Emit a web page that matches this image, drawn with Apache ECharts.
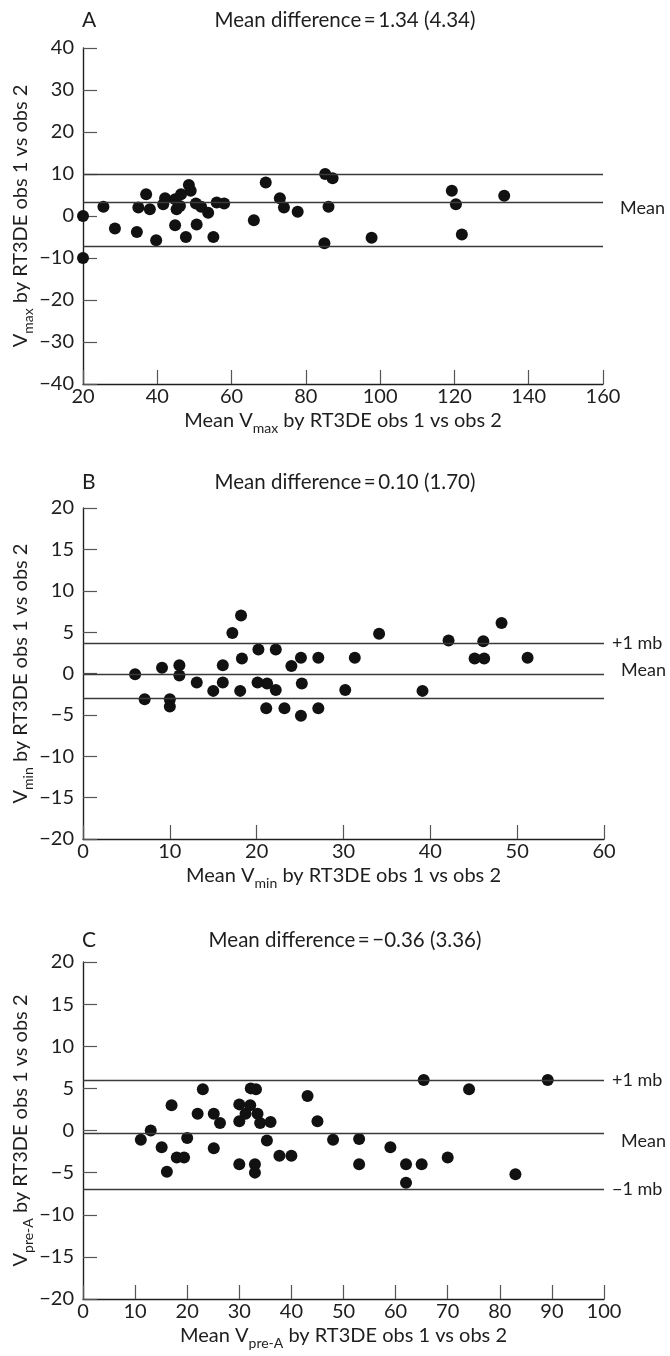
<!DOCTYPE html>
<html><head><meta charset="utf-8">
<script src="https://cdn.jsdelivr.net/npm/echarts@6/dist/echarts.min.js"></script>
<style>html,body{margin:0;padding:0;background:#fff}#c{width:670px;height:1356px}</style>
</head><body><div id="c"></div>
<script>
// Panel A: Vmax
const aX = [20,20,25.5,28.6,34.5,34.9,37,38,39.7,41.6,42.1,44.8,44.8,45.2,46.1,46.4,47.7,48.5,49,50.4,50.6,51.8,53.7,55.1,56,58,66,69.2,73,74.1,77.8,85,85.2,86.1,87.2,97.7,119.3,120.4,122,133.4];
const aY = [0,-10,2.2,-3,-3.8,2,5.2,1.6,-5.8,2.8,4.2,-2.2,4,1.6,2.4,5.2,-5,7.4,6,3,-2,2.2,0.8,-5,3.2,3,-1,8,4.2,2,1,-6.5,10,2.2,9,-5.2,6,2.8,-4.4,4.8];
const aLines = [10, 3.2, -7.2];
const aLineLabels = ['', 'Mean', ''];
// Panel B: Vmin
const bX = [6,7.1,9.1,10,10,11.1,11.1,13.1,15,16.1,16.1,17.2,18.1,18.2,18.3,20.1,20.2,21.2,21.1,22.2,22.2,23.2,24,25.1,25.2,25.1,27.1,27.1,30.2,31.3,34.1,39.1,42.1,45.1,46.2,46.1,48.2,51.2];
const bY = [-0.1,-3.1,0.7,-3.1,-4,1,-0.25,-1.1,-2.1,1,-1.1,4.9,-2.1,7,1.8,-1.1,2.9,-1.2,-4.2,2.9,-2,-4.2,0.9,1.9,-1.2,-5.1,1.9,-4.2,-2,1.9,4.8,-2.1,4,1.8,1.8,3.9,6.1,1.9];
const bLines = [3.7, -0.1, -3.0];
const bLineLabels = ['+1 mb', 'Mean', ''];
// Panel C: Vpre-A
const cX = [11.1,13,15.1,16.1,17,18,19.4,20,22,23,25.1,25.1,26.3,30,30,30,31.2,32.1,32.2,33.2,33.5,34,35.3,36,33,33,37.7,40,43.1,45,48,53,53,59,62,62,65,65.4,70,74.1,83,89.2];
const cY = [-1.1,0,-2,-4.9,3,-3.2,-3.2,-0.9,2,4.9,2,-2.1,0.9,3.1,1.1,-4,2,3,5,4.9,2,0.9,-1.2,1,-4,-5,-3,-3,4.1,1.1,-1.1,-1,-4,-2,-4,-6.2,-4,6,-3.2,4.9,-5.2,6];
const cLines = [6.0, -0.36, -7.0];
const cLineLabels = ['+1 mb', 'Mean', '\u22121 mb'];

const panelLetters = ['A', 'B', 'C'];
const panelTitles = ['Mean difference\u2009=\u20091.34 (4.34)', 'Mean difference\u2009=\u20090.10 (1.70)', 'Mean difference\u2009=\u2009\u22120.36 (3.36)'];
const xRanges = [[20,160,20],[0,60,10],[0,100,10]];
const yRanges = [[-40,40,10],[-20,20,5],[-20,20,5]];
const subs = ['max', 'min', 'pre-A'];

const FONT = 'Lato';
const INK = '#1e1e1e';
const chart = echarts.init(document.getElementById('c'));

const grids = [
  {left: 83, top: 48, width: 520, height: 336, outerBoundsMode: 'none', containLabel: false},
  {left: 83, top: 508, width: 521, height: 331, outerBoundsMode: 'none', containLabel: false},
  {left: 83, top: 962, width: 521, height: 337, outerBoundsMode: 'none', containLabel: false}
];
const fmt = v => String(v).replace('-', '\u2212');
const richName = {
  a: {fontFamily: FONT, fontSize: 20, color: INK, lineHeight: 24, verticalAlign: 'top'},
  s: {fontFamily: FONT, fontSize: 14, color: INK, lineHeight: 34}
};
function mkX(i) {
  const r = xRanges[i];
  return {
    type: 'value', gridIndex: i, min: r[0], max: r[1], interval: r[2],
    axisLine: {show: true, onZero: false, lineStyle: {color: INK, width: 1.4}},
    axisTick: {show: true, inside: true, length: 14, lineStyle: {color: '#555', width: 1.2}},
    axisLabel: {fontFamily: FONT, fontSize: 20, color: INK, margin: 3, formatter: fmt},
    splitLine: {show: false},
    name: '{a|Mean V}{s|' + subs[i] + '}{a| by RT3DE obs 1 vs obs 2}',
    nameLocation: 'middle', nameGap: 27,
    nameTextStyle: {rich: richName}
  };
}
function mkY(i) {
  const r = yRanges[i];
  return {
    type: 'value', gridIndex: i, min: r[0], max: r[1], interval: r[2],
    axisLine: {show: true, onZero: false, lineStyle: {color: INK, width: 1.4}},
    axisTick: {show: true, inside: true, length: 14, lineStyle: {color: '#555', width: 1.2}},
    axisLabel: {fontFamily: FONT, fontSize: 20, color: INK, margin: 9, formatter: fmt},
    splitLine: {show: false},
    name: '{a|V}{s|' + subs[i] + '}{a| by RT3DE obs 1 vs obs 2}',
    nameLocation: 'middle', nameGap: 38, nameRotate: 90, nameMoveOverlap: false,
    nameTextStyle: {rich: richName}
  };
}
function mkSeries(i, xs, ys, lines, labels) {
  return {
    type: 'scatter', xAxisIndex: i, yAxisIndex: i, clip: false,
    symbol: 'circle', symbolSize: 12,
    itemStyle: {color: '#111', opacity: 1},
    data: xs.map((x, k) => [x, ys[k]]),
    markLine: {
      silent: true, symbol: 'none', animation: false,
      lineStyle: {color: '#3a3a3a', width: 1.3, type: 'solid'},
      label: {show: true, position: 'end', fontFamily: FONT, fontSize: 18, color: INK, distance: 8},
      data: lines.map((v, k) => ({
        yAxis: v,
        label: {show: labels[k] !== '', formatter: labels[k],
          offset: labels[k] === 'Mean' ? [9, i === 0 ? 6 : (i === 1 ? -4 : 8)] : [0, 0]}
      }))
    }
  };
}
const graphics = [];
const titleY = [20, 482, 940];
for (let i = 0; i < 3; i++) {
  graphics.push({type: 'text', x: 82, y: titleY[i], style: {text: panelLetters[i], font: '21px ' + FONT, fill: INK, textVerticalAlign: 'middle'}});
  graphics.push({type: 'text', x: 345, y: titleY[i], style: {text: panelTitles[i], font: '20.5px ' + FONT, fill: INK, textAlign: 'center', textVerticalAlign: 'middle'}});
}
chart.setOption({
  animation: false,
  grid: grids,
  xAxis: [0,1,2].map(mkX),
  yAxis: [0,1,2].map(mkY),
  graphic: graphics,
  series: [
    mkSeries(0, aX, aY, aLines, aLineLabels),
    mkSeries(1, bX, bY, bLines, bLineLabels),
    mkSeries(2, cX, cY, cLines, cLineLabels)
  ]
});
</script></body></html>
